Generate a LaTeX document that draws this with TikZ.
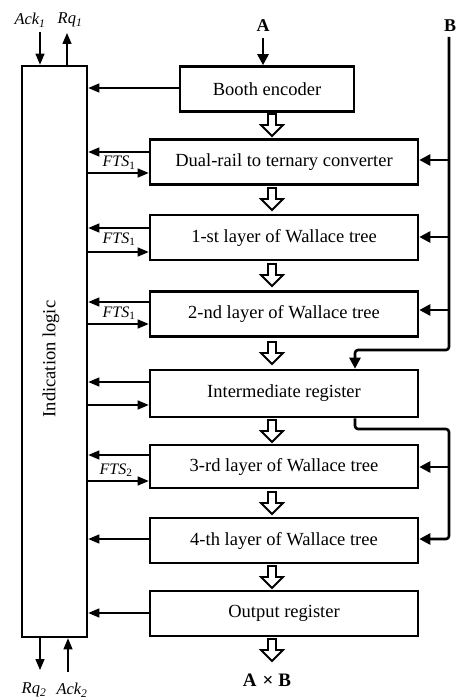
\documentclass[tikz,border=0pt]{standalone}
\usepackage{fontspec}
\setmainfont{Liberation Serif}
\usetikzlibrary{arrows.meta}
\begin{document}
\begin{tikzpicture}[x=1pt,y=-1pt,
  blk/.style={draw, line width=2.6pt, rectangle, inner sep=0pt, fill=white,
    minimum height=45pt, font=\fontsize{18.5}{20}\selectfont},
  wide/.style={blk, minimum width=268pt},
  thinarr/.style={line width=1.3pt, -{Triangle[length=11pt,width=9pt]}},
  thickarr/.style={line width=2.6pt, line join=round, -{Triangle[length=11pt,width=11pt]}},
  sig/.style={font=\fontsize{16.5}{18}\selectfont\itshape, inner sep=0pt},
  fts/.style={font=\fontsize{16}{18}\selectfont, inner sep=0pt},
  io/.style={font=\fontsize{18}{20}\selectfont\bfseries, inner sep=0pt},
  hollow/.pic={\draw[line width=1.8pt, fill=white, line join=miter]
     (-4,0) -- (4,0) -- (4,11) -- (11,11) -- (0,22) -- (-11,11) -- (-4,11) -- cycle;}
]
\useasboundingbox (0,0) rectangle (456,700);

% Indication logic block
\node[draw, line width=2.6pt, inner sep=0pt, minimum width=65pt, minimum height=571pt] (il) at (54.5,351.5) {};
\node[rotate=90, inner sep=0pt, font=\fontsize{18.5}{20}\selectfont] (illbl) at (51,359) {Indication logic};

% Main blocks
\node[blk, minimum width=174pt] (booth) at (267,89) {Booth encoder};
\node[wide] (dual) at (284,162) {Dual-rail to ternary converter};
\node[wide] (l1) at (284,237.5) {1-st layer of Wallace tree};
\node[wide] (l2) at (284,314) {2-nd layer of Wallace tree};
\node[wide, minimum height=47pt] (inter) at (284,393.5) {Intermediate register};
\node[wide, minimum height=43pt] (l3) at (284,466.5) {3-rd layer of Wallace tree};
\node[wide] (l4) at (284,540.5) {4-th layer of Wallace tree};
\node[wide] (outr) at (284,613.5) {Output register};

% Inputs / outputs
\node[io] (alab) at (263,26) {A};
\node[io] (blab) at (450,26) {B};
\node[font=\fontsize{19}{20}\selectfont\bfseries, inner sep=0pt] (ab) at (267,680) {A\hspace{6pt}×\hspace{5pt}B};
\draw[thickarr] ([yshift=-6pt]alab.south) -- (booth.north -| alab.south);

% Handshake signals
\node[sig] (ack1) at (30,20) {Ack\textsubscript{1}};
\node[sig] (rq1) at (70,20) {Rq\textsubscript{1}};
\node[sig] (rq2) at (34,690) {Rq\textsubscript{2}};
\node[sig] (ack2) at (72,690) {Ack\textsubscript{2}};
\coordinate (ack1e) at (40,32);
\coordinate (rq1e) at (67,33);
\coordinate (rq2e) at (40,670);
\coordinate (ack2e) at (68,672);
\draw[thinarr] (ack1e) -- (il.north -| ack1e);
\draw[thinarr] (il.north -| rq1e) -- (rq1e);
\draw[thinarr] (il.south -| rq2e) -- (rq2e);
\draw[thinarr] (ack2e) -- (il.south -| ack2e);

% Arrows between blocks and indication logic
\draw[thinarr] (booth.west |- 0,88) -- (il.east |- 0,88);
\draw[thinarr] (dual.west |- 0,152) -- (il.east |- 0,152);
\draw[thinarr] (il.east |- 0,173) -- (dual.west |- 0,173);
\draw[thinarr] (l1.west |- 0,228) -- (il.east |- 0,228);
\draw[thinarr] (il.east |- 0,252) -- (l1.west |- 0,252);
\draw[thinarr] (l2.west |- 0,302) -- (il.east |- 0,302);
\draw[thinarr] (il.east |- 0,324) -- (l2.west |- 0,324);
\draw[thinarr] (inter.west |- 0,382) -- (il.east |- 0,382);
\draw[thinarr] (il.east |- 0,405) -- (inter.west |- 0,405);
\draw[thinarr] (l3.west |- 0,455) -- (il.east |- 0,455);
\draw[thinarr] (il.east |- 0,481) -- (l3.west |- 0,481);
\draw[thinarr] (l4.west |- 0,539) -- (il.east |- 0,539);
\draw[thinarr] (outr.west |- 0,613) -- (il.east |- 0,613);

\node[fts] (f1) at (119,163) {\textit{FTS}\textsubscript{1}};
\node[fts] (f2) at (119,239) {\textit{FTS}\textsubscript{1}};
\node[fts] (f3) at (119,313) {\textit{FTS}\textsubscript{1}};
\node[fts] (f4) at (116,470) {\textit{FTS}\textsubscript{2}};

% B distribution
\coordinate (btop) at (449,37);
\coordinate (b1) at (449,160);
\coordinate (b2) at (449,237);
\coordinate (b3) at (449,310);
\coordinate (bturn) at (449,350);
\coordinate (ireg) at (355,350);
\coordinate (b4) at (449,467);
\draw[thickarr, rounded corners=3pt] (btop) -- (bturn) -- (ireg) -- (inter.north -| ireg);
\draw[thickarr] (b1) -- (dual.east |- b1);
\draw[thickarr] (b2) -- (l1.east |- b2);
\draw[thickarr] (b3) -- (l2.east |- b3);
\draw[thickarr, rounded corners=3pt] (inter.south -| ireg) -- (355,429) -- (449,429) -- (449,539) -- (l4.east |- 0,539);
\draw[thickarr] (b4) -- (l3.east |- b4);

% Hollow data-flow arrows
\pic at (272,114) {hollow};
\pic at (272,188) {hollow};
\pic at (272,264) {hollow};
\pic at (272,342) {hollow};
\pic at (272,420) {hollow};
\pic at (272,492) {hollow};
\pic at (272,566) {hollow};
\pic at (272,639) {hollow};
\end{tikzpicture}
\end{document}
